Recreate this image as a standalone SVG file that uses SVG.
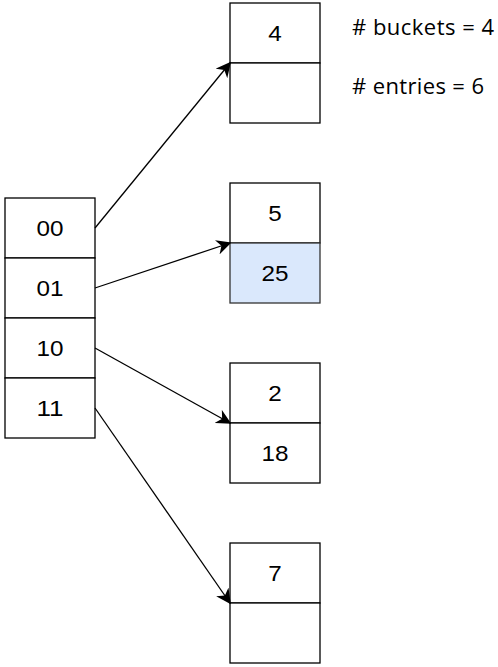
<svg xmlns="http://www.w3.org/2000/svg" width="498" height="667" viewBox="0 0 498 667">
  <style>
    .cell { fill: #ffffff; stroke: #000000; stroke-width: 1.3; }
    .hl { fill: #dae8fc; stroke: #333333; stroke-width: 1.3; }
    .lbl { font-family: "Liberation Sans", Arial, sans-serif; font-size: 22px; fill: #000000; text-anchor: middle; }
    .note { font-family: "Open Sans", "Noto Sans", sans-serif; font-size: 22px; fill: #000000; }
    .edge { fill: none; stroke: #000000; stroke-width: 1.3; marker-end: url(#arrow); }
  </style>
  <defs>
    <marker id="arrow" viewBox="0 0 10 10" refX="9" refY="5" markerWidth="15" markerHeight="15" markerUnits="userSpaceOnUse" orient="auto">
      <path d="M0,0 L10,5 L0,10 L3,5 Z" fill="#000000"/>
    </marker>
  </defs>

  <!-- directory -->
  <g id="dir-00"><rect class="cell" x="5" y="198" width="90" height="60"/><text class="lbl" x="50" y="236" textLength="27" lengthAdjust="spacingAndGlyphs">00</text></g>
  <g id="dir-01"><rect class="cell" x="5" y="258" width="90" height="60"/><text class="lbl" x="50" y="296" textLength="27" lengthAdjust="spacingAndGlyphs">01</text></g>
  <g id="dir-10"><rect class="cell" x="5" y="318" width="90" height="60"/><text class="lbl" x="50" y="356" textLength="27" lengthAdjust="spacingAndGlyphs">10</text></g>
  <g id="dir-11"><rect class="cell" x="5" y="378" width="90" height="60"/><text class="lbl" x="50" y="416" textLength="27" lengthAdjust="spacingAndGlyphs">11</text></g>

  <!-- buckets -->
  <g id="bucket-0">
    <rect class="cell" x="230" y="3" width="90" height="60"/><text class="lbl" x="275" y="41" textLength="13.5" lengthAdjust="spacingAndGlyphs">4</text>
    <rect class="cell" x="230" y="63" width="90" height="60"/>
  </g>
  <g id="bucket-1">
    <rect class="cell" x="230" y="183" width="90" height="60"/><text class="lbl" x="275" y="221" textLength="13.5" lengthAdjust="spacingAndGlyphs">5</text>
    <rect class="hl" x="230" y="243" width="90" height="60"/><text class="lbl" x="275" y="281" textLength="27" lengthAdjust="spacingAndGlyphs">25</text>
  </g>
  <g id="bucket-2">
    <rect class="cell" x="230" y="363" width="90" height="60"/><text class="lbl" x="275" y="401" textLength="13.5" lengthAdjust="spacingAndGlyphs">2</text>
    <rect class="cell" x="230" y="423" width="90" height="60"/><text class="lbl" x="275" y="461" textLength="27" lengthAdjust="spacingAndGlyphs">18</text>
  </g>
  <g id="bucket-3">
    <rect class="cell" x="230" y="543" width="90" height="60"/><text class="lbl" x="275" y="581" textLength="13.5" lengthAdjust="spacingAndGlyphs">7</text>
    <rect class="cell" x="230" y="603" width="90" height="60"/>
  </g>

  <!-- counters -->
  <g id="stats">
    <text class="note" x="352" y="35" textLength="142" lengthAdjust="spacing">#&#160;buckets = 4</text>
    <text class="note" x="352" y="94" textLength="132" lengthAdjust="spacing">#&#160;entries = 6</text>
  </g>

  <!-- pointers -->
  <g id="connectors">
    <line class="edge" x1="95" y1="228" x2="230" y2="63"/>
    <line class="edge" x1="95" y1="288" x2="230" y2="243"/>
    <line class="edge" x1="95" y1="348" x2="230" y2="423"/>
    <line class="edge" x1="95" y1="408" x2="230" y2="603"/>
  </g>
</svg>
